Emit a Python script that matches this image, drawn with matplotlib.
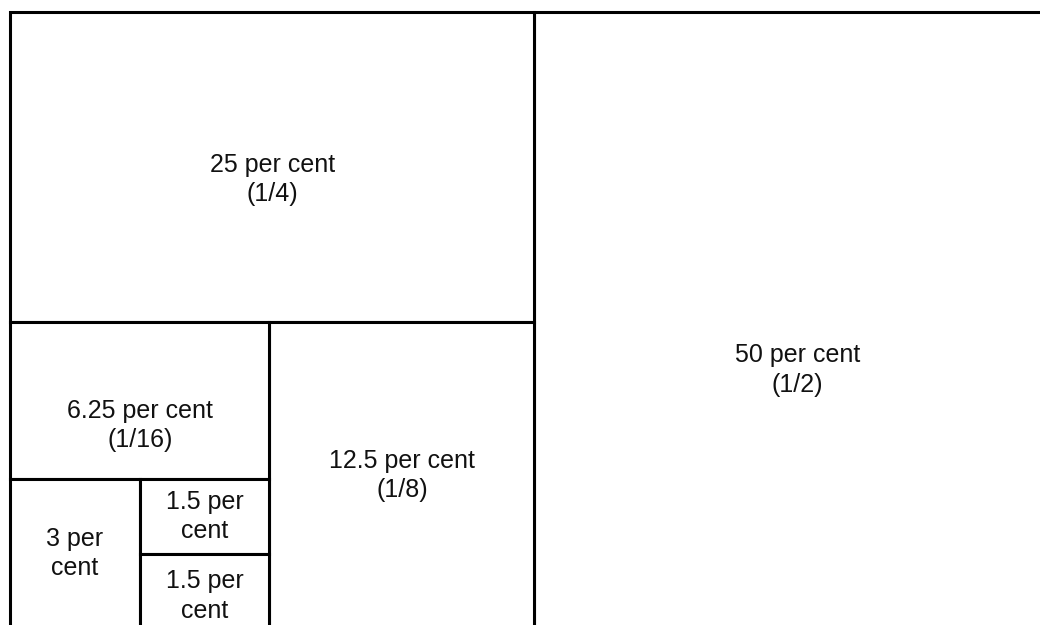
import matplotlib
matplotlib.use("Agg")
import matplotlib.pyplot as plt
from matplotlib.patches import Rectangle

plt.rcParams['font.family'] = ['Liberation Sans', 'DejaVu Sans']

# shares of the whole, in percent
percents = [50, 25, 12.5, 6.25, 3, 1.5, 1.5]
labels = ["50 per cent\n(1/2)", "25 per cent\n(1/4)", "12.5 per cent\n(1/8)",
          "6.25 per cent\n(1/16)", "3 per\ncent", "1.5 per\ncent", "1.5 per\ncent"]
# where each piece is cut off the remaining block
sides = ['right', 'top', 'right', 'top', 'left', 'top', None]
# vertical position of the label inside its block (0 = top, 1 = bottom)
label_pos = [0.58, 0.54, 0.5, 0.66, 0.5, 0.5, 0.56]


def split_layout(vals, sides):
    # slice-and-dice: cut each piece off the rest, by its share of what is left
    x, y, w, h = 0.0, 0.0, 1.0, 1.0
    rest = float(sum(vals))
    rects = []
    for v, s in zip(vals, sides):
        if s is None:
            rects.append((x, y, w, h))
            break
        f = v / rest
        if s == 'right':
            rects.append((x + w * (1 - f), y, w * f, h))
            w = w * (1 - f)
        elif s == 'left':
            rects.append((x, y, w * f, h))
            x = x + w * f
            w = w * (1 - f)
        elif s == 'top':
            rects.append((x, y, w, h * f))
            y = y + h * f
            h = h * (1 - f)
        rest -= v
    return rects


fig = plt.figure(figsize=(10.4, 6.25), dpi=100)
# the diagram runs off the right and bottom of the picture
ax = fig.add_axes([10 / 1040, 1 - (12 + 617) / 625, 1051 / 1040, 617 / 625])
ax.set_xlim(0, 1)
ax.set_ylim(1, 0)
ax.axis('off')

rects = split_layout(percents, sides)
for (x, y, w, h), lab, p in zip(rects, labels, label_pos):
    ax.add_patch(Rectangle((x, y), w, h, facecolor='white', edgecolor='black',
                           linewidth=2.2, clip_on=False))
    ax.text(x + w / 2, y + h * p, lab, ha='center', va='center',
            fontsize=18, color='#111111', linespacing=1.28)

fig.savefig("out.png", dpi=100)
